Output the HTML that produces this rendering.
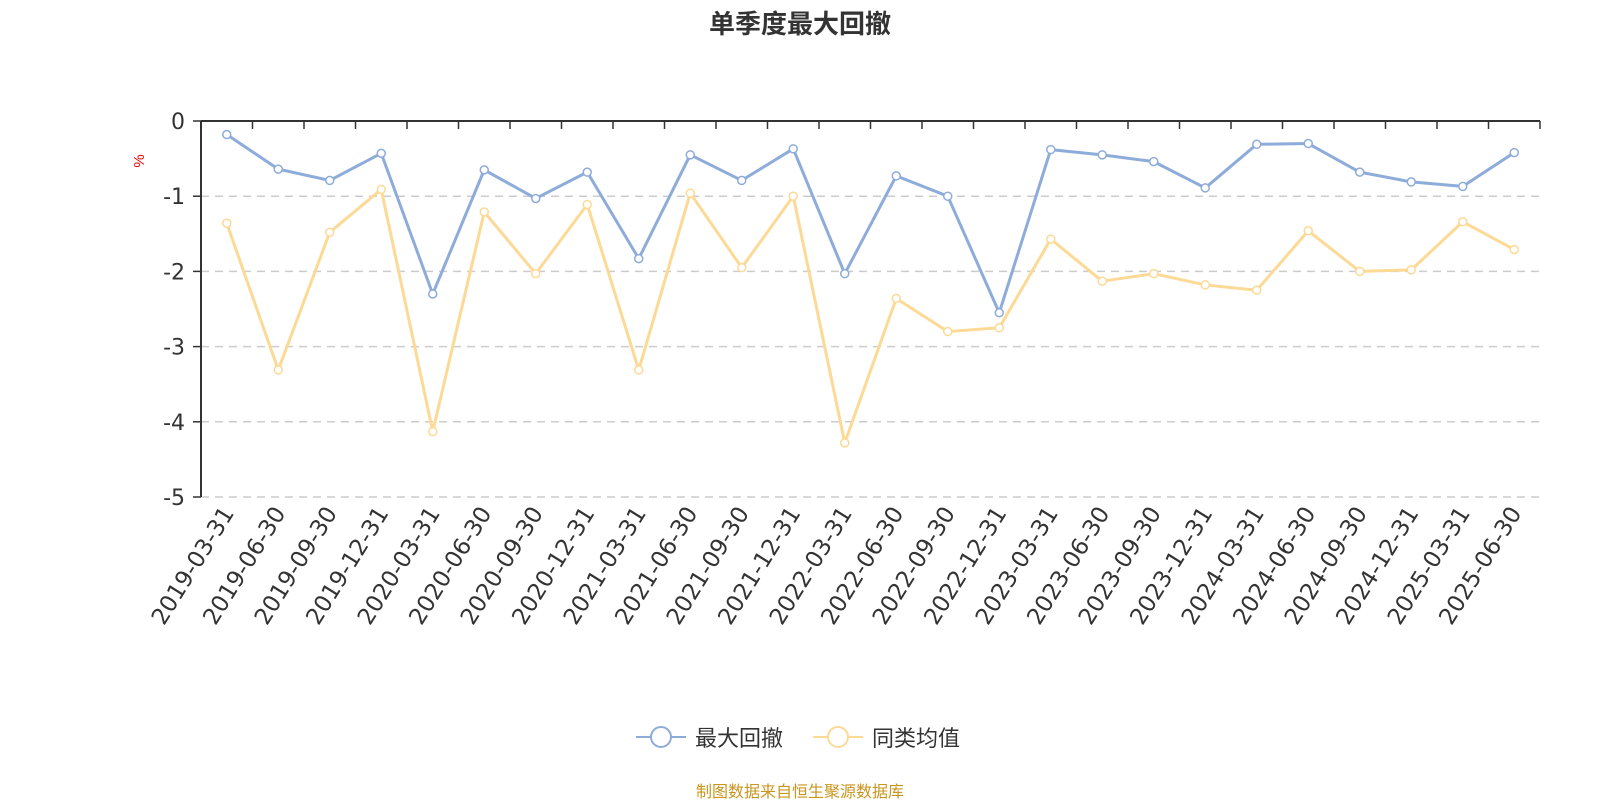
<!DOCTYPE html>
<html><head><meta charset="utf-8">
<style>
body{margin:0;background:#fff;width:1600px;height:800px;overflow:hidden;font-family:"Liberation Sans","Noto Sans CJK SC",sans-serif;}
</style></head>
<body>
<svg id="chart" width="1600" height="800" xmlns="http://www.w3.org/2000/svg" font-family="Liberation Sans, Noto Sans CJK SC, sans-serif">
<text x="800" y="33" text-anchor="middle" font-size="26" font-weight="bold" fill="#333">单季度最大回撤</text>
<text x="0" y="0" transform="translate(144,161) rotate(-90)" text-anchor="middle" font-size="15" fill="#e00">%</text>
<g id="grid"></g><g id="axes"></g><g id="series"></g>
<g>
<g>
<line x1="636" y1="737" x2="686" y2="737" stroke="#8eacd9" stroke-width="2"/>
<circle cx="661" cy="737" r="10" fill="#fff" stroke="#8eacd9" stroke-width="2"/>
<text x="695" y="746" font-size="22" fill="#333">最大回撤</text></g>
<g>
<line x1="813" y1="737" x2="863" y2="737" stroke="#fdd996" stroke-width="2"/>
<circle cx="838" cy="737" r="10" fill="#fff" stroke="#fdd996" stroke-width="2"/>
<text x="872" y="746" font-size="22" fill="#333">同类均值</text></g>
</g>
<text x="800" y="797" text-anchor="middle" font-size="16" fill="#c8961e">制图数据来自恒生聚源数据库</text>
</svg>
<script>
const categories=["2019-03-31","2019-06-30","2019-09-30","2019-12-31","2020-03-31","2020-06-30","2020-09-30","2020-12-31","2021-03-31","2021-06-30","2021-09-30","2021-12-31","2022-03-31","2022-06-30","2022-09-30","2022-12-31","2023-03-31","2023-06-30","2023-09-30","2023-12-31","2024-03-31","2024-06-30","2024-09-30","2024-12-31","2025-03-31","2025-06-30"];
const maxDrawdown=[-0.18,-0.64,-0.79,-0.43,-2.3,-0.65,-1.03,-0.68,-1.83,-0.45,-0.79,-0.37,-2.03,-0.73,-1.0,-2.55,-0.38,-0.45,-0.54,-0.89,-0.31,-0.3,-0.68,-0.81,-0.87,-0.42];
const categoryAvg=[-1.36,-3.31,-1.48,-0.91,-4.13,-1.21,-2.03,-1.11,-3.31,-0.96,-1.95,-1.0,-4.28,-2.36,-2.8,-2.75,-1.57,-2.13,-2.03,-2.18,-2.25,-1.46,-2.0,-1.98,-1.34,-1.71];
const yTicks=[0,-1,-2,-3,-4,-5];
const NS="http://www.w3.org/2000/svg";
const L=201,R=1540,T=121,B=497,yMin=-5,yMax=0;
const band=(R-L)/categories.length;
const xs=i=>L+band*(i+0.5);
const ys=v=>T+(yMax-v)/(yMax-yMin)*(B-T);
function mk(tag,attrs,parent){const e=document.createElementNS(NS,tag);for(const k in attrs)e.setAttribute(k,attrs[k]);parent.appendChild(e);return e;}
const grid=document.getElementById('grid'),axes=document.getElementById('axes'),series=document.getElementById('series');
yTicks.forEach(t=>{const y=ys(t);
if(t!==0){const g=mk('line',{x1:L,x2:R,y1:y,y2:y,stroke:'#ccc','stroke-width':1.5,'stroke-dasharray':'8,6'},grid);

}
const tk=mk('line',{x1:L-8,x2:L,y1:y,y2:y,stroke:'#333','stroke-width':1.5},axes);


const tx=mk('text',{x:L-16,y:y+8,'text-anchor':'end','font-size':22,fill:'#333','font-family':'DejaVu Sans, sans-serif'},axes);tx.textContent=t;

});
const ya=mk('line',{x1:L,x2:L,y1:T,y2:B,stroke:'#333','stroke-width':2},axes);


const xa=mk('line',{x1:L,x2:R,y1:T,y2:T,stroke:'#333','stroke-width':2},axes);


for(let i=0;i<=categories.length;i++){const x=L+band*i;
const t=mk('line',{x1:x,x2:x,y1:T,y2:T+8,stroke:'#333','stroke-width':1.5},axes);

}
categories.forEach((c,i)=>{const x=xs(i)+8,y=B+16;
const t=mk('text',{x:x,y:y,'text-anchor':'end','font-size':23,fill:'#333','font-family':'DejaVu Sans, sans-serif',transform:`rotate(-58 ${x} ${y})`},axes);t.textContent=c;

});
function drawSeries(vals,color,name){
const g=mk('g',{},series);


const p=mk('polyline',{points:vals.map((v,i)=>xs(i)+','+ys(v)).join(' '),fill:'none',stroke:color,'stroke-width':3,'stroke-linejoin':'round'},g);


vals.forEach((v,i)=>{const c=mk('circle',{cx:xs(i),cy:ys(v),r:4,fill:'#fff',stroke:color,'stroke-width':1.5},g);

});}
drawSeries(categoryAvg,'#fdd996','category-average');
drawSeries(maxDrawdown,'#8eacd9','max-drawdown');
</script>
</body></html>
